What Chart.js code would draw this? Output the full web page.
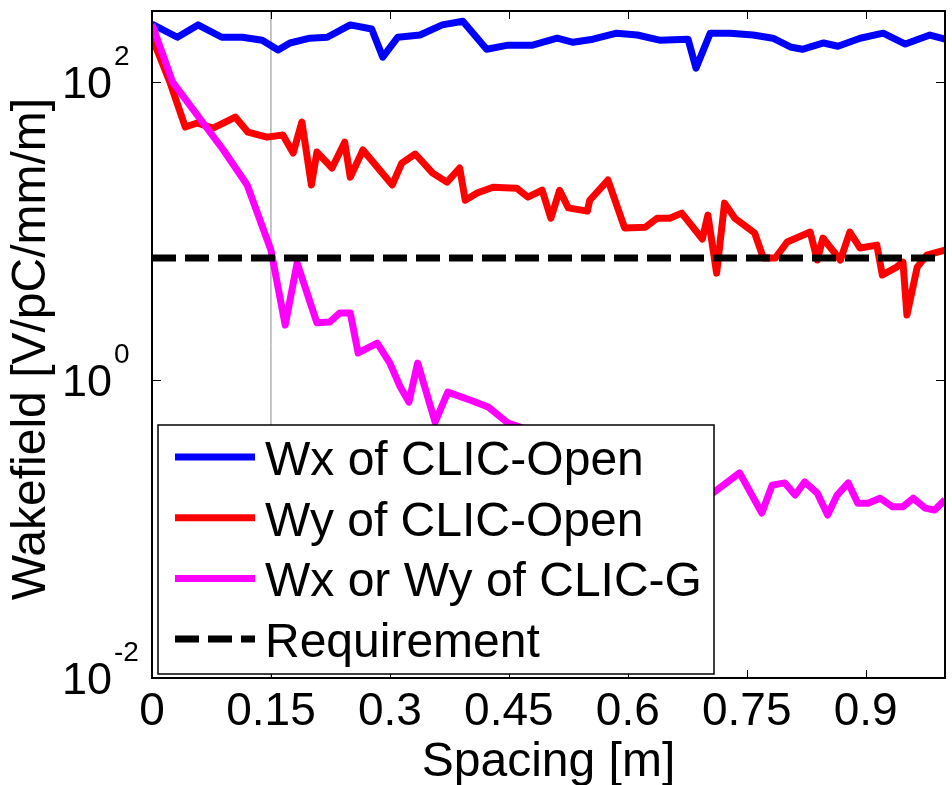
<!DOCTYPE html>
<html>
<head>
<meta charset="utf-8">
<title>Wakefield vs spacing</title>
<script src="https://cdn.jsdelivr.net/npm/chart.js@4.4.1/dist/chart.umd.min.js"></script>
<style>
  body { margin: 0; background: #fff; }
  #wrap { width: 952px; height: 785px; }
</style>
</head>
<body>
<div id="wrap"><canvas id="canvas"></canvas></div>
<script>
// Transverse wakefield at the next structure vs spacing (log scale)
const wxOpenX = [0, 0.032, 0.058, 0.088, 0.114, 0.139, 0.159, 0.174, 0.199, 0.221, 0.250, 0.277, 0.291, 0.310,
  0.338, 0.366, 0.392, 0.422, 0.449, 0.480, 0.511, 0.531, 0.556, 0.586, 0.612, 0.640, 0.676, 0.686, 0.704,
  0.729, 0.758, 0.783, 0.805, 0.820, 0.847, 0.865, 0.893, 0.922, 0.950, 0.981, 1.0];
const wxOpenY = [245, 200, 242, 200, 200, 191, 164, 183, 197, 200, 242, 227, 147, 200,
  207, 242, 256, 166, 177, 177, 197, 185, 194, 213, 207, 191, 194, 124, 213,
  213, 207, 197, 172, 166, 183, 174, 197, 213, 180, 207, 194];

const wyOpenX = [0, 0.023, 0.042, 0.057, 0.077, 0.105, 0.121, 0.145, 0.165, 0.178, 0.189, 0.201, 0.208,
  0.227, 0.243, 0.250, 0.266, 0.303, 0.315, 0.332, 0.354, 0.372, 0.388, 0.395, 0.410, 0.430, 0.460, 0.474,
  0.492, 0.503, 0.514, 0.525, 0.549, 0.552, 0.575, 0.596, 0.622, 0.637, 0.653, 0.668, 0.694, 0.701, 0.712,
  0.722, 0.735, 0.760, 0.771, 0.786, 0.801, 0.830, 0.839, 0.846, 0.868, 0.880, 0.893, 0.914, 0.921, 0.939,
  0.947, 0.952, 0.965, 0.977, 1.0];
const wyOpenY = [200, 98.5, 49.9, 53.1, 49.1, 58.2, 46.1, 42.7, 44.1, 33.4, 53.9, 20.4, 33.9,
  26.5, 39.5, 23.0, 35.0, 20.4, 28.6, 32.9, 24.5, 21.3, 26.5, 16.1, 18.0, 19.7, 19.4, 16.9,
  18.8, 12.2, 18.8, 14.3, 13.6, 16.1, 22.0, 10.5, 10.6, 12.2, 12.2, 13.2, 8.84, 12.8, 5.22,
  15.4, 12.2, 9.70, 6.59, 6.59, 8.44, 9.85, 6.39, 8.98, 6.39, 9.85, 7.69, 8.05, 5.07, 5.73,
  6.19, 2.73, 5.73, 6.90, 7.45];

const clicGX = [0, 0.026, 0.090, 0.120, 0.150, 0.168, 0.183, 0.208, 0.224, 0.237, 0.250, 0.260, 0.284,
  0.300, 0.313, 0.324, 0.335, 0.357, 0.373, 0.401, 0.424, 0.449, 0.707, 0.741, 0.769, 0.782, 0.798,
  0.811, 0.823, 0.839, 0.852, 0.864, 0.878, 0.890, 0.903, 0.918, 0.934, 0.947, 0.960, 0.975, 0.987, 1.0];
const clicGY = [245, 100, 35.0, 20.4, 7.45, 2.34, 6.09, 2.42, 2.45, 2.82, 2.82, 1.52, 1.77,
  1.30, 0.90, 0.711, 1.30, 0.522, 0.830, 0.734, 0.659, 0.514, 0.174, 0.238, 0.128, 0.197, 0.204,
  0.169, 0.207, 0.174, 0.124, 0.169, 0.204, 0.149, 0.149, 0.161, 0.141, 0.141, 0.161, 0.138, 0.134, 0.157];

const requirement = 6.6;       // V/pC/mm/m
const markerSpacing = 0.15;    // thin vertical guide
const seriesLabels = ['Wx of CLIC-Open', 'Wy of CLIC-Open', 'Wx or Wy of CLIC-G', 'Requirement'];
const xTicks = [0, 0.15, 0.3, 0.45, 0.6, 0.75, 0.9];
const xTickLabels = ['0', '0.15', '0.3', '0.45', '0.6', '0.75', '0.9'];
const yTicks = [0.01, 1, 100];
const yTickExponents = ['-2', '0', '2'];

const FONT = "'Liberation Sans', Arial, sans-serif";

function points(xs, ys) {
  return xs.map(function(x, i) { return { x: x, y: ys[i] }; });
}

// matlab-ish frame: boxed axes with inward ticks, 10^n labels, legend inside the plot
const matlabFrame = {
  id: 'matlabFrame',
  afterDatasetsDraw(chart) {
    const ctx = chart.ctx;
    const a = chart.chartArea;
    const xs = chart.scales.x;
    const ys = chart.scales.y;
    ctx.save();

    ctx.strokeStyle = '#000';
    ctx.lineWidth = 1;
    ctx.beginPath();
    xTicks.forEach(function(v) {
      const px = Math.round(xs.getPixelForValue(v)) + 0.5;
      ctx.moveTo(px, a.bottom); ctx.lineTo(px, a.bottom - 8);
      ctx.moveTo(px, a.top); ctx.lineTo(px, a.top + 8);
    });
    yTicks.forEach(function(v) {
      const py = Math.round(ys.getPixelForValue(v)) + 0.5;
      ctx.moveTo(a.left, py); ctx.lineTo(a.left + 9, py);
      ctx.moveTo(a.right, py); ctx.lineTo(a.right - 9, py);
    });
    ctx.stroke();
    ctx.lineWidth = 2;
    ctx.strokeRect(a.left, a.top, a.right - a.left, a.bottom - a.top);

    // legend box
    const box = { left: 158, top: 425, right: 714, bottom: 674 };
    ctx.fillStyle = '#fff';
    ctx.fillRect(box.left, box.top, box.right - box.left, box.bottom - box.top);
    ctx.lineWidth = 1.5;
    ctx.strokeRect(box.left, box.top, box.right - box.left, box.bottom - box.top);
    ctx.font = '48px ' + FONT;
    ctx.textAlign = 'left';
    ctx.textBaseline = 'alphabetic';
    const legendSets = chart.data.datasets.filter(function(d) { return d.label; });
    legendSets.forEach(function(d, i) {
      const base = 475 + i * 60.7;
      ctx.strokeStyle = d.borderColor;
      ctx.lineWidth = d.borderWidth;
      ctx.setLineDash(d.borderDash || []);
      ctx.beginPath();
      ctx.moveTo(175, base - 18);
      ctx.lineTo(255, base - 18);
      ctx.stroke();
      ctx.setLineDash([]);
      ctx.fillStyle = '#000';
      ctx.fillText(d.label, 265, base);
    });
    ctx.restore();
  },
  afterDraw(chart) {
    const ctx = chart.ctx;
    const a = chart.chartArea;
    const xs = chart.scales.x;
    const ys = chart.scales.y;
    ctx.save();
    ctx.fillStyle = '#000';

    ctx.font = '46px ' + FONT;
    ctx.textAlign = 'center';
    ctx.textBaseline = 'alphabetic';
    xTicks.forEach(function(v, i) {
      ctx.fillText(xTickLabels[i], xs.getPixelForValue(v), 725);
    });

    yTicks.forEach(function(v, i) {
      const py = ys.getPixelForValue(v);
      ctx.font = '45px ' + FONT;
      ctx.textAlign = 'right';
      ctx.fillText('10', 112, py + 16);
      ctx.font = '28px ' + FONT;
      ctx.textAlign = 'left';
      ctx.fillText(yTickExponents[i], 114, py - 17);
    });

    ctx.font = '48px ' + FONT;
    ctx.textAlign = 'center';
    ctx.fillText('Spacing [m]', (a.left + a.right) / 2, 776);

    ctx.translate(45, 349);
    ctx.rotate(-Math.PI / 2);
    ctx.font = '48px ' + FONT;
    ctx.fillText('Wakefield [V/pC/mm/m]', 0, 0);
    ctx.restore();
  }
};

const canvas = document.getElementById('canvas');
const chart = new Chart(canvas, {
  type: 'line',
  data: {
    datasets: [{
      label: seriesLabels[0],
      data: points(wxOpenX, wxOpenY),
      borderColor: '#0000ff',
      borderWidth: 7,
      order: 3
    }, {
      label: seriesLabels[1],
      data: points(wyOpenX, wyOpenY),
      borderColor: '#ff0000',
      borderWidth: 7,
      order: 2
    }, {
      label: seriesLabels[2],
      data: points(clicGX, clicGY),
      borderColor: '#ff00ff',
      borderWidth: 7,
      order: 1
    }, {
      label: seriesLabels[3],
      data: [{ x: 0, y: requirement }, { x: 1, y: requirement }],
      borderColor: '#000000',
      borderWidth: 7,
      borderDash: [24, 9],
      order: 0
    }, {
      label: '',
      data: [{ x: markerSpacing, y: 0.01 }, { x: markerSpacing, y: 300 }],
      borderColor: '#8a8a8a',
      borderWidth: 1,
      order: 4
    }]
  },
  options: {
    responsive: true,
    maintainAspectRatio: false,
    animation: false,
    events: [],
    layout: { padding: { left: 0, right: 7, top: 11, bottom: 0 } },
    elements: {
      point: { radius: 0 },
      line: { tension: 0, borderJoinStyle: 'round', borderCapStyle: 'butt', fill: false }
    },
    plugins: { legend: { display: false }, tooltip: { enabled: false } },
    scales: {
      x: {
        type: 'linear',
        min: 0,
        max: 1,
        grid: { display: false, drawTicks: false },
        border: { display: false },
        ticks: { display: false },
        afterFit: function(scale) { scale.height = 107; }
      },
      y: {
        type: 'logarithmic',
        min: 0.01,
        max: 300,
        grid: { display: false, drawTicks: false },
        border: { display: false },
        ticks: { display: false },
        afterFit: function(scale) { scale.width = 152; }
      }
    }
  },
  plugins: [matlabFrame]
});
</script>
</body>
</html>
